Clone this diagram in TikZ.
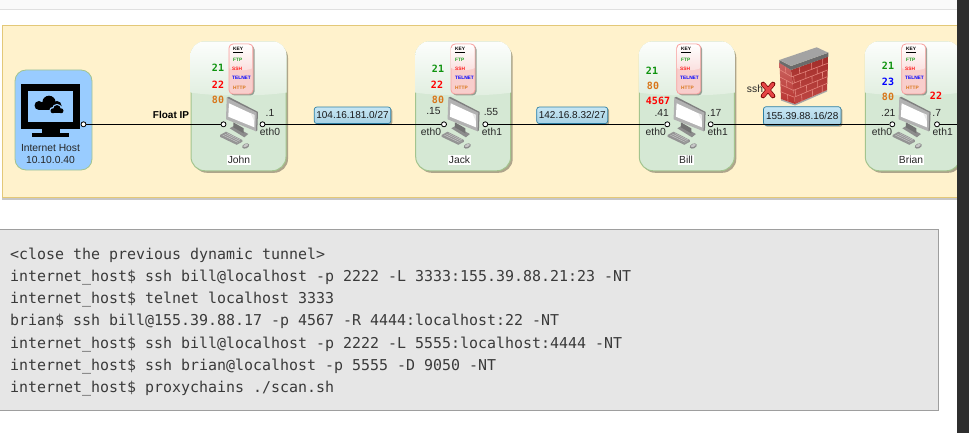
\documentclass[tikz,border=0pt]{standalone}
\usepackage{fontspec}
\setmainfont{Liberation Sans}
\newfontfamily\codefont{DejaVu Sans Mono}
\usetikzlibrary{calc,shadows}
\definecolor{panelfill}{HTML}{FFF2CC}
\definecolor{panelline}{HTML}{E3C878}
\definecolor{cardfill}{HTML}{D5E8D4}
\definecolor{cardline}{HTML}{A3C48E}
\definecolor{keyfill}{HTML}{F8CECC}
\definecolor{hostfill}{HTML}{99CCFF}
\definecolor{labfill}{HTML}{B1DDF0}
\definecolor{labline}{HTML}{2E7FA3}
\definecolor{ftpc}{HTML}{1E9E1E}
\definecolor{portgreen}{HTML}{0E930E}
\definecolor{httpc}{HTML}{D9761A}
\definecolor{codebg}{HTML}{E6E6E6}
\definecolor{codetxt}{HTML}{3A3A3A}
\definecolor{scrollc}{HTML}{2E2E2E}
\definecolor{brick}{HTML}{B8332F}
\definecolor{mortar}{HTML}{E4847C}
\tikzset{
  txt/.style={inner sep=0pt,font=\fontsize{10.3}{12}\selectfont,text=black!85},
  namebox/.style={inner sep=1pt,fill=white,font=\fontsize{10.3}{12}\selectfont,text=black!85},
  hostcard/.style={draw=cardline,line width=.8pt,fill=hostfill,rounded corners=11pt,minimum width=77pt,minimum height=100pt,inner sep=0pt},
  card/.style={draw=cardline,line width=1pt,fill=cardfill,rounded corners=14pt,minimum width=95pt,minimum height=129pt,inner sep=0pt,
    drop shadow={shadow xshift=2pt,shadow yshift=-2pt,fill=black!45!panelfill,opacity=.7}},
  keycard/.style={draw=red!22!keyfill,line width=.8pt,fill=keyfill,rounded corners=4pt,minimum width=24pt,minimum height=50pt,inner sep=0pt,
    drop shadow={shadow xshift=1.5pt,shadow yshift=-1.5pt,fill=black!40!cardfill,opacity=.8}},
  keytxt/.style={inner sep=0pt,anchor=west,font=\fontsize{4.8}{5}\selectfont\bfseries},
  portnum/.style={inner sep=0pt,font=\fontsize{10}{12}\selectfont\codefont\bfseries},
  netlabel/.style={draw=labline,line width=.7pt,rounded corners=2.5pt,top color=labfill!72!white,bottom color=labfill!95!black,inner sep=0pt,minimum height=16.5pt,
    font=\fontsize{10}{12}\selectfont,text=black!90,
    drop shadow={shadow xshift=1.5pt,shadow yshift=-1.5pt,fill=black!45!panelfill,opacity=.7}},
  portdot/.style={circle,draw=black,line width=.8pt,fill=white,minimum size=5pt,inner sep=0pt},
  link/.style={draw=black,line width=.9pt},
  codeline/.style={inner sep=0pt,anchor=base west,text=codetxt,font=\fontsize{14.95}{18}\selectfont\codefont},
}
\newcommand{\hostgloss}[2]{%
  \begin{scope}
    \clip[rounded corners=14pt] (#1-.5,41.3) rectangle (#2+.5,171);
    \shade[top color=white!94!cardfill,bottom color=cardfill!72!white]
      (#1-1,41) -- (#2+1,41) -- (#2+1,92.5) .. controls (#2-25,96.5) and (#1+25,96.5) .. (#1-1,92.5) -- cycle;
  \end{scope}}
\newcommand{\keygloss}[2]{%
  \begin{scope}
    \clip[rounded corners=4pt] (#1+.5,44.5) rectangle (#2-.5,93.5);
    \shade[top color=white,bottom color=keyfill!65!white]
      (#1,44) -- (#2,44) -- (#2,68) .. controls (#2-6,71) and (#1+6,71) .. (#1,68) -- cycle;
  \end{scope}}
\newcommand{\keycardbox}[4]{%
  \node[keycard] (#1key) at (#2+12,69) {};
  \keygloss{#2}{#2+24}
  \node[keytxt,text=black] (#1keyh) at (#2+#3,50) {\underline{KEY}};
  \node[keytxt,text=ftpc] (#1ftp) at (#2+#3,59.5) {FTP};
  \node[keytxt,text=red!90!white] (#1ssh) at (#2+#4,69) {SSH};
  \node[keytxt,text=blue] (#1tel) at (#2+#4,78) {TELNET};
  \node[keytxt,text=httpc] (#1http) at (#2+#3,87.5) {HTTP};}
\newcommand{\pcicon}[1]{%
  \begin{scope}[shift={(#1,97.3)}]
    \fill[black!45] (3,31) -- (7,28.7) -- (21.6,36.7) -- (17.6,40) -- cycle;
    \fill[black!55] (6.6,25) -- (17,31) -- (17,36) -- (6.6,30) -- cycle;
    \fill[black!42] (-6.7,37.7) -- (-.7,34.4) -- (15.6,42.7) -- (15.6,44.5) -- (10,47.5) -- (-6.7,39.5) -- cycle;
    \draw[black!22,line width=.5pt] (-4,37.8) -- (11,45) (-2,36.8) -- (13,44) (.5,36.2) -- (13.5,42.6);
    \fill[black!45,rotate around={25:(19,48.7)}] (19,48.7) ellipse (3.7 and 2.4);
    \fill[black!22,rotate around={25:(19,48.2)}] (19,48.2) ellipse (2.6 and 1.3);
    \fill[black!50] (0,.5) -- (2,-.5) -- (31.3,14.6) -- (30.6,33) -- (29.3,34) -- cycle;
    \fill[black!30] (0,.5) -- (30,15.4) -- (29.3,34) -- (-.7,22) -- cycle;
    \fill[white] (2.3,6) -- (27.6,17.7) -- (27.6,30) -- (1.6,19.4) -- cycle;
    \fill[black!8] (24,16) -- (27.6,17.7) -- (27.6,24) -- cycle;
  \end{scope}}
\begin{document}
\begin{tikzpicture}[x=1pt,y=-1pt]
\useasboundingbox (0,0) rectangle (969,433);
\fill[white] (0,0) rectangle (969,433);
\fill[black!2] (0,0) rectangle (969,9);
\fill[black!12] (0,9) rectangle (969,10);
\fill[black!22] (2,197) rectangle (965,200);
\node[draw=panelline,line width=1pt,fill=panelfill,minimum width=964pt,minimum height=171pt,inner sep=0pt] (panel) at (484.5,111.5) {};
\node[hostcard] (host) at (53.5,120) {};
\node[card] (john) at (238.5,106.3) {};
\hostgloss{191}{286}
\node[card] (jack) at (463.2,106.3) {};
\hostgloss{415.7}{510.7}
\node[card] (bill) at (686.8,106.3) {};
\hostgloss{639.3}{734.3}
\node[card] (brian) at (912.8,106.3) {};
\hostgloss{865.3}{960.3}
\fill[black] (20.7,84) rectangle (80.3,129);
\fill[hostfill] (27.7,91) rectangle (73.3,121.7);
\fill[black] (41.7,129) rectangle (60,133);
\fill[black] (32.3,132.7) rectangle (69,136.7);
\fill[black] (39,105.5) circle (4.5) (49,102.3) circle (6.6) (57,105.5) circle (4.5);
\fill[black] (39,103) rectangle (57,110);
\fill[hostfill] (53,110.6) circle (3.8) (57,108.7) circle (4.9) (61,110.6) circle (3.8);
\fill[hostfill] (50,110) rectangle (64,114.6);
\fill[black] (53,110.8) circle (2.5) (57,108.7) circle (3.6) (61,110.8) circle (2.5);
\fill[black] (53,110) rectangle (61,113.3);
\node[txt] (hostname) at (50.5,148) {Internet Host};
\node[txt] (hostip) at (50.5,160) {10.10.0.40};
\keycardbox{john}{229}{4}{3}
\keycardbox{jack}{451}{4}{4}
\keycardbox{bill}{676.7}{4.3}{3.3}
\keycardbox{brian}{901.7}{4.3}{3.3}
\pcicon{226.7}
\pcicon{448.3}
\pcicon{674.3}
\pcicon{899.3}
\coordinate (fwA) at (791,70);
\coordinate (fwB) at (828.3,56.5);
\coordinate (fwC) at (827,90);
\coordinate (fwD) at (795,104);
\coordinate (fwE) at (779.5,62.5);
\coordinate (fwF) at (781,99);
\fill[black!35] (fwF) -- (fwD) -- (fwC) -- (827,91.5) -- (795,105.5) -- (781,100.5) -- cycle;
\shade[top color=brick!88!black,bottom color=brick!90!white] (fwA) -- (fwB) -- (fwC) -- (fwD) -- cycle;
\shade[top color=brick!75!white,bottom color=brick] (fwE) -- (fwA) -- (fwD) -- (fwF) -- cycle;
\foreach \t in {.2,.4,.6,.8}{
  \draw[mortar,line width=.6pt] ($(fwA)!\t!(fwD)$) -- ($(fwB)!\t!(fwC)$);
  \draw[mortar,line width=.6pt] ($(fwE)!\t!(fwF)$) -- ($(fwA)!\t!(fwD)$);
}
\foreach \t/\u in {0/.2,.4/.6,.8/1}{
  \foreach \s in {.22,.55,.85}{
    \draw[mortar,line width=.6pt] ($($(fwA)!\t!(fwD)$)!\s!($(fwB)!\t!(fwC)$)$) -- ($($(fwA)!\u!(fwD)$)!\s!($(fwB)!\u!(fwC)$)$);
  }
  \draw[mortar,line width=.6pt] ($($(fwE)!\t!(fwF)$)!.5!($(fwA)!\t!(fwD)$)$) -- ($($(fwE)!\u!(fwF)$)!.5!($(fwA)!\u!(fwD)$)$);
}
\foreach \t/\u in {.2/.4,.6/.8}{
  \foreach \s in {.05,.38,.7}{
    \draw[mortar,line width=.6pt] ($($(fwA)!\t!(fwD)$)!\s!($(fwB)!\t!(fwC)$)$) -- ($($(fwA)!\u!(fwD)$)!\s!($(fwB)!\u!(fwC)$)$);
  }
}
\fill[black!58] (779.3,60) -- (791,66) -- (828.3,52.7) -- (828.3,56.7) -- (791,70) -- (779.3,62.7) -- cycle;
\fill[black!36] (779.3,60) -- (816.7,47.3) -- (828.3,52.7) -- (791,66) -- cycle;
\node[txt] (sshlabel) at (755,89.3) {ssh};
\coordinate (xa) at (763,84);
\coordinate (xb) at (773,96);
\coordinate (xc) at (773,84);
\coordinate (xd) at (763,96);
\draw[draw=red!45!black,line width=4.6pt,line cap=round] (xa) -- (xb) (xc) -- (xd);
\draw[draw=red!70!white!90!black,line width=3.2pt,line cap=round] (xa) -- (xb) (xc) -- (xd);
\node[netlabel,minimum width=76.5pt] (net1) at (352.5,115.3) {104.16.181.0/27};
\node[netlabel,minimum width=71pt] (net2) at (572.2,115.3) {142.16.8.32/27};
\node[netlabel,minimum width=77.5pt,minimum height=18.5pt] (net3) at (802.2,116) {155.39.88.16/28};
\node[portdot] (hostp) at (83.5,124.3) {};
\node[portdot] (johnL) at (223.5,124.3) {};
\node[portdot] (johnR) at (262.5,124.3) {};
\node[portdot] (jackL) at (444,124.3) {};
\node[portdot] (jackR) at (485.3,124.3) {};
\node[portdot] (billL) at (667.3,124.3) {};
\node[portdot] (billR) at (710.7,124.3) {};
\node[portdot] (brianL) at (892.3,124.3) {};
\node[portdot] (brianR) at (937,124.3) {};
\coordinate (edge) at (957,124.3);
\draw[link] (hostp) -- (johnL);
\draw[link] (johnR) -- (jackL);
\draw[link] (jackR) -- (billL);
\draw[link] (billR) -- (brianL);
\draw[link] (brianR) -- (edge);
\node[txt,font=\fontsize{10}{12}\selectfont\bfseries,text=black] (fip) at (171,115) {Float IP};
\node[txt] (j1) at (270,113) {.1};
\node[txt] (j2) at (270,131.5) {eth0};
\node[txt] (k1) at (433.5,111.5) {.15};
\node[txt] (k2) at (431,131.5) {eth0};
\node[txt] (k3) at (491,112) {.55};
\node[txt] (k4) at (492,131.5) {eth1};
\node[txt] (b1) at (661.7,113) {.41};
\node[txt] (b2) at (655.7,131.5) {eth0};
\node[txt] (b3) at (714.3,113) {.17};
\node[txt] (b4) at (717.7,131.5) {eth1};
\node[txt] (r1) at (888.3,112.5) {.21};
\node[txt] (r2) at (882,131.5) {eth0};
\node[txt] (r3) at (936.7,113) {.7};
\node[txt] (r4) at (942.7,131.5) {eth1};
\node[namebox] (nj) at (239,160) {John};
\node[namebox] (nk) at (459.5,160) {Jack};
\node[namebox] (nb) at (686,160) {Bill};
\node[namebox] (nr) at (911,160) {Brian};
\node[portnum,text=portgreen] (p1) at (218,68) {21};
\node[portnum,text=red] (p2) at (218,85) {22};
\node[portnum,text=httpc] (p3) at (218,100) {80};
\node[portnum,text=portgreen] (p4) at (438,68.5) {21};
\node[portnum,text=red] (p5) at (437,84.5) {22};
\node[portnum,text=httpc] (p6) at (438,99.5) {80};
\node[portnum,text=portgreen] (p7) at (652,70.5) {21};
\node[portnum,text=httpc] (p8) at (653,85.5) {80};
\node[portnum,text=red] (p9) at (658,100.5) {4567};
\node[portnum,text=portgreen] (p10) at (888,65.5) {21};
\node[portnum,text=blue] (p11) at (888,81.5) {23};
\node[portnum,text=httpc] (p12) at (888,96.5) {80};
\node[portnum,text=red] (p13) at (936,95.5) {22};
\fill[codebg] (-2,229) rectangle (939,411);
\draw[black!38,line width=1pt] (-2,229.5) -- (938.5,229.5) -- (938.5,410.5) -- (-2,410.5);
\node[codeline] (c1) at (10,259) {<close the previous dynamic tunnel>};
\node[codeline] (c2) at (10,281.2) {internet\_host\$ ssh bill@localhost -p 2222 -L 3333:155.39.88.21:23 -NT};
\node[codeline] (c3) at (10,303.4) {internet\_host\$ telnet localhost 3333};
\node[codeline] (c4) at (10,325.7) {brian\$ ssh bill@155.39.88.17 -p 4567 -R 4444:localhost:22 -NT};
\node[codeline] (c5) at (10,348) {internet\_host\$ ssh bill@localhost -p 2222 -L 5555:localhost:4444 -NT};
\node[codeline] (c6) at (10,370.5) {internet\_host\$ ssh brian@localhost -p 5555 -D 9050 -NT};
\node[codeline] (c7) at (10,392.7) {internet\_host\$ proxychains ./scan.sh};
\fill[scrollc] (957,0) rectangle (969,433);
\end{tikzpicture}
\end{document}
